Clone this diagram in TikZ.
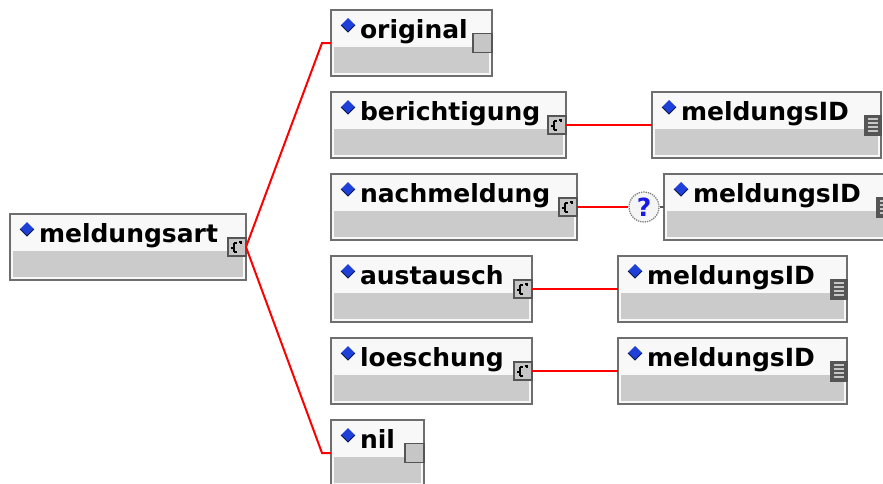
\documentclass[tikz,border=0pt]{standalone}
\usepackage{fontspec}
\setmainfont{DejaVu Sans}
\usetikzlibrary{calc}
\definecolor{boxline}{HTML}{6E6E6E}
\definecolor{hdr}{HTML}{F8F8F8}
\definecolor{low}{HTML}{CBCBCB}
\definecolor{dia}{HTML}{1E3FD8}
\definecolor{diad}{HTML}{0A1A50}
\definecolor{icf}{HTML}{C6C6C6}
\definecolor{icd}{HTML}{555555}
\definecolor{qblue}{HTML}{1A1AE6}
\definecolor{linkred}{RGB}{255,0,0}
\tikzset{
  elem/.style={draw=boxline, line width=1.7pt, fill=hdr, rectangle, anchor=north west,
    minimum height=66pt, inner sep=0pt, outer sep=0pt},
  lbl/.style={anchor=base west, inner sep=0pt, outer sep=0pt, font=\fontsize{25}{25}\selectfont\bfseries},
  conn/.style={draw=linkred, line width=2pt},
  cicon/.style={draw=icd, fill=icf, line width=1.2pt, minimum width=18pt, minimum height=18pt,
    inner sep=0pt, outer sep=0pt, anchor=east},
  eicon/.style={draw=icd, fill=icf, line width=1.4pt, minimum width=19pt, minimum height=19pt,
    inner sep=0pt, outer sep=0pt, anchor=east},
  sicon/.style={draw=icd, fill=icd, line width=1pt, minimum width=17pt, minimum height=20pt,
    inner sep=0pt, outer sep=0pt, anchor=east},
  qcirc/.style={circle, draw=gray, densely dotted, line width=1.3pt, fill=black!4, minimum size=30pt,
    inner sep=0pt, font=\fontsize{25}{25}\selectfont\bfseries, text=qblue},
}
% #1 name, #2 left, #3 top, #4 width, #5 label
\newcommand\xmlelem[5]{%
  \node[elem, minimum width=#4pt] (#1) at (#2,#3) {};
  \fill[low] ($(#1.north west)+(3,37)$) rectangle ($(#1.south east)+(-3,-3)$);
  \fill[dia] ($(#1.north west)+(17,8)$) -- ++(7,7) -- ++(-7,7) -- ++(-7,-7) -- cycle;
  \draw[diad, line width=0.9pt] ($(#1.north west)+(24,15)$) -- ++(-7,7) -- ++(-7,-7);
  \node[lbl] (#1-t) at ($(#1.north west)+(29,28)$) {#5};
}
\newcommand\cplxicon[1]{%
  \node[cicon] (#1-i) at (#1.east) {};
  \draw[black, line width=1.1pt]
    ($(#1-i.center)+(-6,1)$) -- ++(3,0)
    ($(#1-i.center)+(-3,-4)$) -- ++(0,9)
    ($(#1-i.center)+(-3,-4)$) -- ++(3,0)
    ($(#1-i.center)+(-3,5)$) -- ++(3,0)
    ($(#1-i.center)+(2,-5)$) -- ++(2,0) -- ++(0,2);
}
\newcommand\emptyicon[1]{%
  \node[eicon] (#1-i) at (#1.east) {};
}
\newcommand\simpleicon[1]{%
  \node[sicon] (#1-i) at (#1.east) {};
  \foreach \yy in {-6,-2,2,6}
    \draw[icf, line width=1.6pt] ($(#1-i.center)+(-5,\yy)$) -- ++(10,0);
}
\begin{document}
\begin{tikzpicture}[x=1pt, y=-1pt]
\useasboundingbox (0,0) rectangle (883,483);
\clip (0,0) rectangle (883,483);
\fill[white] (0,0) rectangle (883,483);

\xmlelem{ma}{10}{214}{236}{meldungsart} \cplxicon{ma}
\xmlelem{orig}{331}{10}{161}{original} \emptyicon{orig}
\xmlelem{ber}{331}{92}{235}{berichtigung} \cplxicon{ber}
\xmlelem{nach}{331}{174}{246}{nachmeldung} \cplxicon{nach}
\xmlelem{aus}{331}{256}{201}{austausch} \cplxicon{aus}
\xmlelem{loe}{331}{338}{201}{loeschung} \cplxicon{loe}
\xmlelem{nil}{331}{420}{93}{nil} \emptyicon{nil}

\xmlelem{mid1}{652}{92}{229}{meldungsID} \simpleicon{mid1}
\xmlelem{mid2}{664}{174}{229}{meldungsID} \simpleicon{mid2}
\xmlelem{mid3}{618}{256}{229}{meldungsID} \simpleicon{mid3}
\xmlelem{mid4}{618}{338}{229}{meldungsID} \simpleicon{mid4}

\node[qcirc] (q) at (644,207) {?};

\coordinate (c1) at ($(orig.west)+(-9,0)$);
\coordinate (c2) at ($(nil.west)+(-9,0)$);
\draw[conn] (ma-i.east) -- (c1) -- (orig.west);
\draw[conn] (ma-i.east) -- (c2) -- (nil.west);
\draw[conn] (ber-i.east) -- (mid1.west);
\draw[conn] (nach-i.east) -- (q.west);
\draw[draw=icd, line width=1.3pt] (q.east) -- (mid2.west);
\draw[conn] (aus-i.east) -- (mid3.west);
\draw[conn] (loe-i.east) -- (mid4.west);
\end{tikzpicture}
\end{document}
